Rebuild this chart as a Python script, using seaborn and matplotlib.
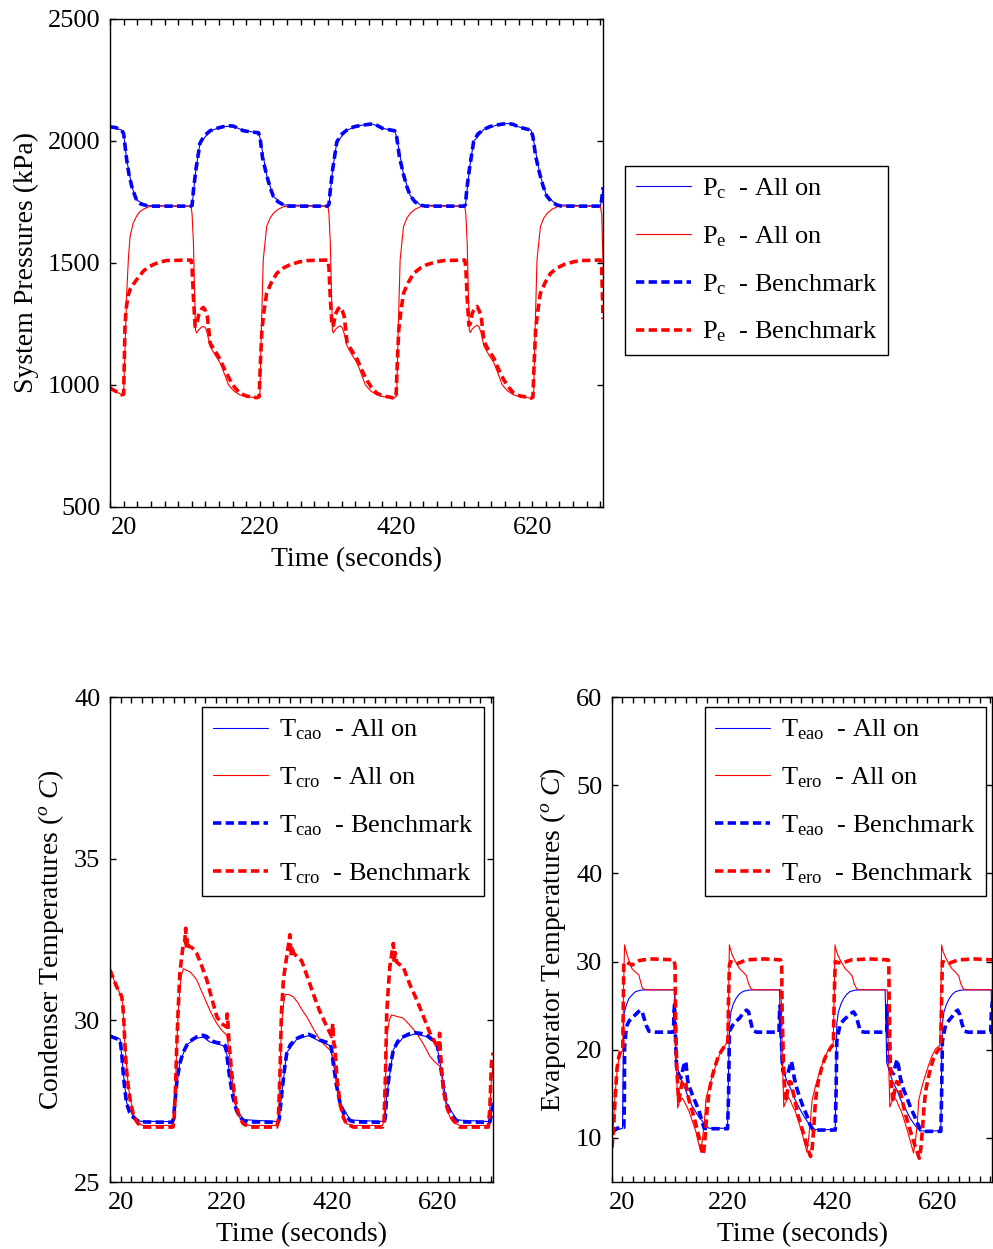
import pandas as pd
import matplotlib
matplotlib.use("Agg")
import matplotlib.pyplot as plt
from matplotlib.ticker import MultipleLocator, FixedLocator
import seaborn as sns

# ---------------------------------------------------------------- data
# System pressures (kPa)
PC_BENCH_T = [0, 8, 17, 20, 24.5, 28, 32, 36, 39, 45, 54, 60, 118.5,
              120.5, 122.5, 126, 132, 138, 147, 157, 166.6, 176, 181, 188, 196, 207, 218, 220.5, 224, 230, 235, 240, 247, 255, 262, 319.5,
              321.5, 323.5, 327, 333, 339, 348, 358, 368, 377, 385, 392, 400, 410, 418, 421, 425, 431, 436, 441, 448, 456, 463, 520,
              522, 524, 528, 534, 540, 549, 559, 569, 578, 585, 592, 600, 610, 618, 621, 625, 631, 636, 641, 648, 656, 663, 720,
              722, 724]
PC_BENCH = [2058, 2055, 2045, 2030, 1922, 1860, 1813, 1780, 1758, 1742, 1735, 1733, 1733,
            1736, 1798, 1880, 1990, 2020, 2042, 2052, 2059, 2062, 2061, 2052, 2042, 2037, 2034, 2010, 1930, 1860, 1810, 1772, 1750, 1738, 1733, 1733,
            1740, 1800, 1885, 1995, 2025, 2045, 2058, 2064, 2067, 2070, 2064, 2052, 2046, 2042, 2015, 1935, 1862, 1812, 1775, 1750, 1737, 1733, 1733,
            1740, 1805, 1890, 1998, 2028, 2048, 2060, 2066, 2070, 2072, 2068, 2058, 2050, 2045, 2018, 1938, 1865, 1815, 1776, 1752, 1738, 1733, 1733,
            1760, 1810]

PC_ALLON_T = [0, 17, 20, 24.5, 32, 39, 54, 118.5,
              120.5, 126, 132, 147, 166.6, 181, 196, 218, 220.5, 230, 240, 255, 319.5,
              321.5, 327, 333, 348, 368, 385, 400, 418, 421, 431, 441, 456, 520,
              522, 528, 534, 549, 569, 585, 600, 618, 621, 631, 641, 656, 720,
              722, 724]
PC_ALLON = [2058, 2045, 2030, 1922, 1813, 1758, 1735, 1733,
            1736, 1880, 1990, 2042, 2059, 2061, 2042, 2034, 2010, 1860, 1772, 1738, 1733,
            1740, 1885, 1995, 2045, 2064, 2070, 2052, 2042, 2015, 1862, 1775, 1737, 1733,
            1740, 1890, 1998, 2048, 2066, 2072, 2058, 2045, 2018, 1865, 1776, 1738, 1733,
            1760, 1810]

PE_BENCH_T = [0, 8, 17, 20, 21, 22, 24, 27, 30, 34, 40, 49, 56, 64, 72, 83, 119,
              120.5, 122.5, 125, 127, 130, 134, 137, 140, 143, 147, 152, 162, 168, 176, 183, 191, 200, 210, 216, 219, 221, 223, 226, 230, 237, 245, 255, 265, 279, 290, 320,
              321.5, 323.5, 326, 328, 331, 335, 338, 341, 344, 348, 353, 363, 369, 377, 384, 392, 401, 411, 417, 420, 422, 424, 427, 431, 438, 446, 456, 466, 480, 491, 521,
              522.5, 524.5, 527, 529, 532, 536, 539, 542, 545, 549, 554, 564, 570, 578, 585, 593, 602, 612, 618, 621, 623, 625, 628, 632, 639, 647, 657, 667, 681, 692, 720,
              722, 724]
PE_BENCH = [987, 975, 960, 962, 1100, 1247, 1320, 1371, 1395, 1412, 1435, 1467, 1482, 1494, 1503, 1510, 1512,
            1480, 1357, 1240, 1245, 1285, 1310, 1318, 1305, 1280, 1171, 1150, 1103, 1065, 1021, 990, 966, 955, 950, 948, 952, 1100, 1226, 1300, 1376, 1420, 1458, 1480, 1494, 1505, 1510, 1512,
            1480, 1357, 1240, 1245, 1290, 1312, 1320, 1305, 1280, 1175, 1150, 1105, 1065, 1020, 990, 966, 955, 950, 946, 950, 1100, 1226, 1300, 1376, 1420, 1458, 1480, 1494, 1505, 1510, 1512,
            1480, 1357, 1245, 1250, 1295, 1315, 1322, 1305, 1282, 1180, 1152, 1108, 1068, 1022, 992, 966, 955, 950, 946, 950, 1100, 1226, 1300, 1376, 1420, 1458, 1480, 1494, 1505, 1510, 1512,
            1480, 1270]

PE_ALLON_T = [0, 8, 17, 20, 22, 24.5, 27, 29.4, 34, 39, 44, 50, 59, 65, 119,
              120.5, 122.5, 124, 125.5, 127, 130, 134, 137, 140, 143, 147, 155, 162, 168, 174, 182, 191, 200, 210, 216, 220, 222, 225, 230, 235, 240, 247, 255, 262, 320,
              321.5, 323.5, 325, 326.5, 328, 331, 335, 338, 341, 344, 348, 356, 363, 369, 375, 383, 392, 401, 411, 417, 421, 423, 426, 431, 436, 441, 448, 456, 463, 521,
              522.5, 524.5, 526, 527.5, 529, 532, 536, 539, 542, 545, 549, 557, 564, 570, 576, 584, 593, 602, 612, 618, 622, 624, 627, 632, 637, 642, 649, 657, 664, 720,
              722, 724]
PE_ALLON = [987, 975, 960, 962, 1150, 1376, 1520, 1608, 1663, 1692, 1711, 1722, 1732, 1733, 1733,
            1700, 1581, 1400, 1226, 1213, 1225, 1236, 1240, 1235, 1210, 1157, 1120, 1089, 1045, 1000, 975, 959, 952, 949, 948, 955, 1200, 1512, 1649, 1684, 1704, 1720, 1731, 1733, 1733,
            1700, 1581, 1400, 1226, 1213, 1228, 1238, 1242, 1235, 1210, 1160, 1120, 1089, 1045, 1000, 975, 959, 952, 949, 946, 955, 1200, 1512, 1649, 1684, 1704, 1720, 1731, 1733, 1733,
            1700, 1581, 1400, 1226, 1215, 1230, 1240, 1245, 1238, 1212, 1160, 1120, 1089, 1045, 1000, 975, 959, 952, 949, 946, 955, 1200, 1512, 1649, 1684, 1704, 1720, 1731, 1733, 1733,
            1700, 1500]

# Condenser temperatures (deg C)
TCAO_BENCH_T = [0, 10, 19, 22, 25, 28, 31.5, 37, 44, 50, 57, 117,
                120, 123, 127, 132, 138, 145, 155, 164, 176, 183, 189, 200, 214, 219, 221, 224, 227, 232, 239, 245, 252, 260, 318,
                320, 324, 329, 334, 341, 353, 364, 375, 386, 397, 408, 416, 419, 422, 428, 435, 443, 454, 462, 517,
                520, 523, 529, 535.5, 544, 554, 565, 576, 587, 598, 608, 617, 620, 624, 630, 636, 645, 655, 663, 718,
                721, 724]
TCAO_BENCH = [29.51, 29.45, 29.39, 29.0, 28.36, 27.85, 27.43, 27.15, 27.0, 26.92, 26.86, 26.85,
              26.95, 27.53, 28.2, 28.67, 29.0, 29.23, 29.4, 29.49, 29.54, 29.5, 29.39, 29.32, 29.28, 29.2, 28.9, 28.5, 28.15, 27.65, 27.22, 27.02, 26.91, 26.86, 26.85,
              26.95, 27.63, 28.4, 28.98, 29.25, 29.44, 29.52, 29.57, 29.5, 29.39, 29.33, 29.28, 29.1, 28.67, 28.0, 27.43, 27.1, 26.9, 26.86, 26.85,
              26.95, 27.63, 28.5, 29.08, 29.35, 29.49, 29.58, 29.62, 29.6, 29.55, 29.42, 29.33, 29.1, 28.67, 28.0, 27.43, 27.1, 26.9, 26.86, 26.85,
              27.1, 27.43]

TCAO_ALLON_T = [0, 19, 25, 31.5, 44, 57, 117,
                120, 123, 132, 145, 164, 176, 189, 214, 221, 227, 239, 252, 318,
                320, 324, 334, 353, 375, 397, 416, 422, 435, 454, 517,
                520, 523, 535.5, 554, 576, 598, 617, 624, 636, 655, 718,
                721, 724]
TCAO_ALLON = [29.55, 29.42, 28.4, 27.45, 27.02, 26.88, 26.87,
              26.97, 27.55, 28.7, 29.25, 29.45, 29.48, 29.33, 29.22, 28.95, 28.2, 27.25, 26.93, 26.87,
              26.97, 27.65, 29.0, 29.42, 29.53, 29.35, 29.22, 28.7, 27.45, 26.92, 26.87,
              26.97, 27.65, 29.1, 29.47, 29.58, 29.5, 29.28, 28.7, 27.45, 26.92, 26.87,
              27.12, 27.45]

TCRO_BENCH_T = [0, 6, 12.6, 18.9, 22, 24, 26, 28.4, 31, 34.6, 39, 44, 50, 56.7, 62, 119,
                121, 124, 126, 129, 132, 135, 138.6, 141, 143, 144.5, 146, 148, 155, 164, 173, 183, 192, 202, 211, 220, 221.5, 223, 225, 230, 235, 239, 245, 252, 265, 315,
                318, 321, 324, 328, 334, 337, 340, 342, 344, 346.5, 354, 362, 372, 384, 396, 410, 419, 421, 423, 425, 429, 435, 441, 447, 460, 515,
                518, 521, 523, 526, 529, 532, 535.5, 537, 539, 542, 548, 554, 567, 580, 593, 605, 615, 621, 623, 625, 630, 637, 643, 649, 661, 715,
                718, 721, 724]
TCRO_BENCH = [31.56, 31.3, 31.04, 30.83, 30.75, 30.52, 30.0, 29.18, 28.5, 27.94, 27.45, 27.1, 26.88, 26.74, 26.7, 26.7,
              26.9, 28.0, 29.18, 30.4, 31.45, 31.9, 32.38, 32.4, 32.85, 32.2, 32.5, 32.3, 32.25, 32.07, 31.7, 31.25, 30.7, 30.11, 29.9, 29.8, 30.2, 29.9, 29.3, 28.36, 27.75, 27.33, 27.0, 26.8, 26.7, 26.7,
              26.9, 28.2, 30.21, 31.3, 31.97, 32.3, 32.65, 32.0, 32.3, 32.1, 31.95, 31.85, 31.4, 30.83, 30.3, 29.8, 29.5, 29.9, 29.3, 29.18, 28.2, 27.4, 27.0, 26.8, 26.7, 26.7,
              26.9, 28.5, 30.21, 31.0, 31.66, 32.0, 32.38, 31.8, 32.1, 31.8, 31.72, 31.66, 31.1, 30.63, 30.1, 29.6, 29.3, 29.1, 29.6, 28.9, 27.84, 27.3, 27.05, 26.91, 26.7, 26.7,
              27.3, 28.67, 29.0]

TCRO_ALLON_T = [0, 12.6, 18.9, 24, 28.4, 34.6, 44, 56.7, 62, 119,
                121, 124, 126, 129, 132, 135, 138.6, 145, 151, 157, 164, 173, 183, 192, 202, 211, 220.5, 223, 225, 230, 235, 239, 245, 252, 265, 315,
                318, 321, 324, 328, 331, 338, 346.5, 355, 364, 372, 384, 397, 408, 416, 421, 425, 429, 435, 441, 447, 460, 515,
                518, 521, 524, 528, 532, 543, 554, 567, 580, 593, 605, 615, 624, 627, 630, 637, 643, 649, 661, 715,
                718, 721, 724]
TCRO_ALLON = [31.56, 31.04, 30.83, 30.52, 29.18, 27.94, 27.1, 26.78, 26.75, 26.75,
              26.9, 28.0, 29.18, 30.3, 31.0, 31.4, 31.6, 31.55, 31.5, 31.4, 31.25, 30.9, 30.53, 30.2, 29.9, 29.7, 29.54, 29.3, 29.1, 28.3, 27.7, 27.3, 27.0, 26.8, 26.75, 26.75,
              26.9, 28.2, 29.8, 30.5, 30.8, 30.8, 30.73, 30.55, 30.3, 30.11, 29.75, 29.39, 29.2, 29.08, 28.9, 28.7, 28.0, 27.35, 27.0, 26.8, 26.75, 26.75,
              26.9, 28.3, 29.6, 30.0, 30.17, 30.12, 30.07, 29.85, 29.6, 29.25, 28.88, 28.7, 28.57, 28.3, 27.8, 27.25, 27.0, 26.85, 26.75, 26.75,
              27.3, 28.2, 28.6]

# Evaporator temperatures (deg C)
TEAO_BENCH_T = [0, 9.5, 22.5, 23.5, 24, 26, 28.7, 33, 38, 45, 50, 54, 58, 61, 65, 70.5, 83, 117,
                118, 119, 120.5, 123, 127, 131, 135, 139, 141, 144, 148, 153, 160, 166, 171, 175.5, 185, 220, 222, 223.5, 230, 236, 243, 250, 256, 260, 264, 268, 275, 318,
                319, 320, 321.5, 325.6, 330, 334, 338, 341.5, 344, 347, 352, 358, 364, 370.6, 377, 383, 395, 425, 426.5, 428, 434, 440, 447, 454, 460, 465, 469, 473, 480, 523,
                523.5, 524, 525.5, 528, 532, 536, 540, 543, 546, 549, 555, 562, 568, 575, 582, 587.6, 597, 626, 627.5, 629, 635, 641, 648, 654, 658, 662, 666, 671, 678, 721,
                722, 724]
TEAO_BENCH = [10.75, 11.1, 11.2, 14.0, 20.2, 21.8, 22.8, 23.3, 23.6, 24.0, 24.3, 24.5, 24.2, 23.6, 22.8, 22.1, 22.0, 22.0,
              24.0, 25.1, 22.0, 17.9, 17.2, 16.8, 17.8, 18.7, 18.4, 16.5, 15.7, 14.9, 13.9, 13.0, 12.0, 11.1, 11.05, 11.05, 15.0, 22.1, 22.8, 23.2, 23.6, 24.2, 24.5, 24.3, 23.2, 22.2, 22.0, 22.0,
              24.5, 25.0, 22.0, 17.5, 17.2, 17.1, 18.0, 18.7, 18.0, 16.8, 15.6, 14.5, 13.5, 12.6, 11.5, 10.9, 10.9, 10.9, 15.0, 21.0, 22.8, 23.3, 23.7, 24.1, 24.3, 23.8, 22.9, 22.1, 22.0, 22.0,
              24.0, 25.0, 22.0, 18.0, 17.5, 17.3, 18.3, 18.9, 18.0, 16.8, 15.5, 14.5, 13.5, 12.6, 11.6, 10.9, 10.75, 10.75, 15.0, 21.0, 22.8, 23.3, 23.8, 24.3, 24.5, 24.0, 23.0, 22.1, 22.0, 22.0,
              24.0, 25.5]

TEAO_ALLON_T = [0, 9.5, 20, 22.5, 27, 32, 38, 45, 54, 64, 117,
                119, 120, 121.5, 125, 129, 133, 139, 146, 152, 159, 165, 172, 178, 185, 220, 222, 224, 226.5, 231, 236, 242, 249, 258, 268, 319,
                320, 322, 326, 330, 334, 341, 348, 355, 361, 367, 374, 380, 387, 425, 426.5, 428, 431, 436, 441, 447, 453, 462, 472, 520,
                521, 523, 527, 531, 535, 542, 549, 556, 562, 568, 575, 581, 588, 626, 627.5, 629, 632, 637, 642, 648, 654, 663, 673, 722,
                724]
TEAO_ALLON = [10.4, 10.9, 11.1, 24.0, 25.0, 25.8, 26.2, 26.6, 26.75, 26.8, 26.8,
              26.8, 24.0, 18.5, 17.9, 17.0, 16.4, 15.6, 14.5, 13.7, 13.0, 12.4, 11.9, 11.4, 11.1, 11.1, 18.0, 23.0, 24.3, 25.2, 25.8, 26.3, 26.6, 26.75, 26.8, 26.8,
              24.0, 18.5, 17.8, 17.0, 16.3, 15.5, 14.4, 13.6, 12.9, 12.3, 11.7, 11.2, 10.95, 10.95, 18.0, 23.0, 24.3, 25.2, 25.8, 26.3, 26.6, 26.75, 26.8, 26.8,
              24.0, 18.5, 17.8, 17.0, 16.3, 15.5, 14.4, 13.6, 12.9, 12.2, 11.6, 11.1, 10.8, 10.8, 18.0, 23.0, 24.3, 25.2, 25.8, 26.3, 26.6, 26.75, 26.8, 26.8,
              20.0]

TERO_BENCH_T = [0, 3, 6, 9.6, 13, 16, 20.5, 22.4, 26, 32, 38, 45, 51, 60, 77, 118,
                120, 121, 123, 125.5, 127.6, 130, 134, 137, 140, 143, 147, 152, 156.6, 161, 166, 170, 172.6, 175, 178, 181, 185, 190, 195, 201, 207.6, 214, 220.5, 222, 223.5, 226, 232, 240, 248, 256, 290, 321,
                323, 324, 326.5, 329, 331.6, 334, 338, 341, 344, 348, 354, 360, 367, 372, 378, 381, 384, 386.5, 389.5, 394, 399, 405, 412, 417, 421.5, 423, 425, 430, 438, 446, 456, 490, 526,
                527, 528, 530, 532.5, 535, 538, 542, 545, 548, 552, 559, 565, 572, 578, 585, 588, 591, 594, 597, 602, 606.6, 612, 619, 623, 626, 627.5, 629, 634, 642, 650, 660, 690, 724]
TERO_BENCH = [8.9, 11.1, 14.5, 17.9, 19.2, 19.8, 20.2, 29.6, 30.0, 29.8, 29.6, 29.9, 30.1, 30.2, 30.3, 30.2,
              29.5, 24.0, 18.3, 15.5, 14.2, 15.2, 16.4, 16.5, 16.4, 15.2, 14.2, 13.2, 12.3, 11.2, 10.0, 8.8, 8.1, 8.6, 10.6, 13.2, 15.3, 16.8, 17.9, 19.0, 19.8, 20.4, 20.9, 26.0, 29.6, 30.0, 29.8, 29.8, 30.0, 30.2, 30.3, 30.2,
              29.5, 24.0, 18.3, 15.5, 14.2, 15.3, 16.4, 16.3, 15.4, 14.4, 12.6, 11.4, 10.0, 8.9, 7.9, 8.8, 11.0, 13.5, 15.3, 16.8, 17.9, 19.0, 19.8, 20.3, 20.6, 26.0, 30.0, 29.9, 29.8, 30.0, 30.2, 30.3, 30.2,
              29.5, 24.0, 18.3, 15.5, 14.2, 15.3, 16.4, 16.3, 15.4, 14.4, 12.6, 11.4, 10.0, 8.9, 7.7, 8.8, 11.0, 13.5, 15.3, 16.8, 17.9, 19.0, 19.8, 20.1, 20.2, 26.0, 30.0, 29.9, 29.8, 30.0, 30.2, 30.3, 30.2]

TERO_ALLON_T = [0, 3, 6, 9.6, 13, 16, 20.5, 22, 24, 26, 28.7, 33, 38, 45, 51, 55, 57.6, 64, 118,
                120, 122, 125, 128, 131, 134, 138, 142, 147, 153, 159.5, 164, 169, 172, 175.5, 179, 185, 191.7, 198, 204.5, 212, 220, 222, 223.5, 226, 230, 236, 243, 250, 256, 260, 265, 270, 320,
                322, 324, 327, 330, 333, 336, 340, 344, 349, 355, 361, 366, 371, 374, 377, 381, 387, 393, 400, 406, 413, 421, 423, 424.5, 427, 431, 437, 444, 451, 457, 461, 466, 471, 522,
                524, 526, 529, 532, 535, 538, 542, 546, 551, 557, 563, 568, 574, 578, 581, 584, 590, 596, 603, 609, 616, 624, 626, 627.5, 630, 634, 640, 647, 654, 660, 664, 669, 674, 724]
TERO_ALLON = [9.5, 11.8, 15.0, 17.5, 18.9, 19.5, 20.0, 27.0, 31.9, 31.4, 30.8, 30.0, 29.2, 28.8, 28.5, 27.6, 27.0, 26.8, 26.8,
              26.8, 20.0, 13.4, 14.0, 14.3, 14.5, 14.1, 13.6, 13.0, 11.9, 10.75, 9.6, 8.5, 9.8, 11.5, 14.5, 15.8, 17.1, 18.3, 19.4, 20.2, 20.9, 26.0, 31.9, 31.3, 30.6, 29.9, 29.2, 28.8, 28.4, 27.5, 26.9, 26.8, 26.8,
              26.8, 20.0, 13.5, 14.0, 14.3, 14.6, 14.2, 13.6, 13.0, 11.9, 10.7, 9.6, 8.4, 9.8, 11.5, 14.3, 15.8, 17.0, 18.3, 19.3, 20.1, 20.6, 26.0, 31.9, 31.2, 30.6, 29.9, 29.2, 28.8, 28.4, 27.5, 26.9, 26.8, 26.8,
              26.8, 20.0, 13.5, 14.0, 14.3, 14.6, 14.2, 13.6, 13.0, 11.9, 10.7, 9.6, 8.3, 9.8, 11.5, 14.3, 15.8, 17.0, 18.3, 19.3, 20.1, 20.5, 26.0, 31.9, 31.2, 30.6, 29.9, 29.2, 28.8, 28.4, 27.5, 26.9, 26.8, 26.8]

X_TICKS = [20, 220, 420, 620]
X_LIM = (0, 724)

# ---------------------------------------------------------------- style
sns.set_style("ticks")
plt.rcParams.update({
    "font.family": ["Liberation Serif", "DejaVu Serif"],
    "mathtext.fontset": "custom",
    "mathtext.rm": "Liberation Serif",
    "mathtext.it": "Liberation Serif:italic",
    "axes.edgecolor": "black",
    "axes.linewidth": 1.0,
    "xtick.direction": "in",
    "ytick.direction": "in",
    "xtick.color": "black",
    "ytick.color": "black",
    "text.color": "black",
    "axes.labelcolor": "black",
})

BLUE = (0, 0, 1)
RED = (1, 0, 0)
THIN = dict(lw=0.8, linestyle="-")
DASH = dict(lw=2.6, linestyle=(0, (2.3, 1.2)))


def trace(ax, t, v, color, style, label):
    df = pd.DataFrame({"time": t, "value": v})
    sns.lineplot(data=df, x="time", y="value", ax=ax, color=color,
                 sort=False, estimator=None, label=label, **style)


def dress(ax, ylabel, yticks, ylim, fs):
    ax.set_xlim(*X_LIM)
    ax.set_ylim(*ylim)
    ax.xaxis.set_major_locator(FixedLocator(X_TICKS))
    ax.xaxis.set_minor_locator(MultipleLocator(20))
    ax.yaxis.set_major_locator(FixedLocator(yticks))
    ax.tick_params(which="major", direction="in", length=4, width=1.0,
                   top=True, right=True, labelsize=fs, pad=7,
                   colors="black")
    ax.tick_params(axis="x", which="minor", direction="in", length=4,
                   width=1.0, top=True, bottom=True, color="black")
    for s in ax.spines.values():
        s.set_visible(True)
        s.set_color("black")
        s.set_linewidth(1.0)
    ax.set_xlabel("Time (seconds)", fontsize=fs + 1, labelpad=6)
    ax.set_ylabel(ylabel, fontsize=fs + 1, labelpad=6)


def legend(ax, fs, **kw):
    lg = ax.legend(handles=ax.get_lines(), fontsize=fs, frameon=True,
                   fancybox=False, shadow=False, framealpha=1,
                   edgecolor="black", handlelength=2.1, handletextpad=0.4,
                   labelspacing=0.88, borderpad=0.4, borderaxespad=0, **kw)
    lg.get_frame().set_linewidth(1.0)


fig = plt.figure(figsize=(9.93, 12.49), dpi=100)
ax1 = fig.add_axes([0.1108, 0.5941, 0.4965, 0.3907])
ax2 = fig.add_axes([0.1108, 0.0536, 0.3857, 0.3883])
ax3 = fig.add_axes([0.6163, 0.0536, 0.3830, 0.3883])

# pressures
trace(ax1, PC_ALLON_T, PC_ALLON, BLUE, THIN, r"P$_\mathregular{c}$  - All on")
trace(ax1, PE_ALLON_T, PE_ALLON, RED, THIN, r"P$_\mathregular{e}$  - All on")
trace(ax1, PC_BENCH_T, PC_BENCH, BLUE, DASH, r"P$_\mathregular{c}$  - Benchmark")
trace(ax1, PE_BENCH_T, PE_BENCH, RED, DASH, r"P$_\mathregular{e}$  - Benchmark")
dress(ax1, "System Pressures (kPa)", [500, 1000, 1500, 2000, 2500], (500, 2500), 19)
legend(ax1, 19, loc="upper left", bbox_to_anchor=(1.045, 0.699))

# condenser
trace(ax2, TCAO_ALLON_T, TCAO_ALLON, BLUE, THIN, r"T$_\mathregular{cao}$  - All on")
trace(ax2, TCRO_ALLON_T, TCRO_ALLON, RED, THIN, r"T$_\mathregular{cro}$  - All on")
trace(ax2, TCAO_BENCH_T, TCAO_BENCH, BLUE, DASH, r"T$_\mathregular{cao}$  - Benchmark")
trace(ax2, TCRO_BENCH_T, TCRO_BENCH, RED, DASH, r"T$_\mathregular{cro}$  - Benchmark")
dress(ax2, r"Condenser Temperatures ($^o$ $C$)", [25, 30, 35, 40], (25, 40), 19)
legend(ax2, 19, loc="upper right", bbox_to_anchor=(0.976, 0.979))

# evaporator
trace(ax3, TEAO_ALLON_T, TEAO_ALLON, BLUE, THIN, r"T$_\mathregular{eao}$  - All on")
trace(ax3, TERO_ALLON_T, TERO_ALLON, RED, THIN, r"T$_\mathregular{ero}$  - All on")
trace(ax3, TEAO_BENCH_T, TEAO_BENCH, BLUE, DASH, r"T$_\mathregular{eao}$  - Benchmark")
trace(ax3, TERO_BENCH_T, TERO_BENCH, RED, DASH, r"T$_\mathregular{ero}$  - Benchmark")
dress(ax3, r"Evaporator Temperatures ($^o$ $C$)", [10, 20, 30, 40, 50, 60], (5, 60), 19)
legend(ax3, 19, loc="upper right", bbox_to_anchor=(0.984, 0.979))

fig.savefig("out.png", dpi=100, facecolor="white")
